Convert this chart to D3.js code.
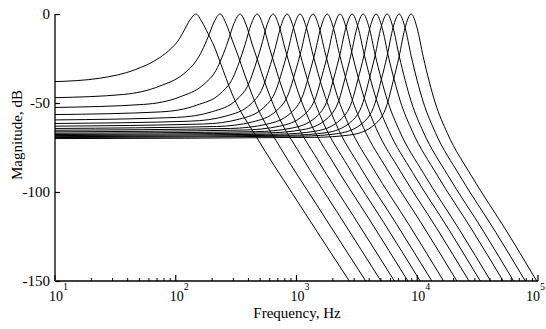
<!DOCTYPE html>
<html>
<head>
<meta charset="utf-8">
<script src="https://cdn.jsdelivr.net/npm/d3@7"></script>
<style>
  html, body { margin: 0; padding: 0; background: #fff; }
  svg { display: block; }
  text { font-family: "Liberation Serif", "Times New Roman", serif; fill: #000; }
</style>
</head>
<body>
<svg id="chart" width="546" height="329"></svg>
<script>
// ---- data ----
// peak frequency of each curve (Hz)
const peakHz = [147, 233, 341, 472, 640, 836, 1071, 1371, 1795, 2296, 2890, 3565, 4565, 5630, 7080, 8900];
// flat low-frequency level of each curve (dB)
const lowLevel = [-38, -47, -52.5, -56.5, -59.5, -61.5, -63, -64.3, -65.3, -66.2, -67, -67.7, -68.3, -68.9, -69.4, -70];
// sample offsets from the peak, in decades
const offsetDec = [-0.8, -0.5, -0.3, -0.2, -0.15, -0.1, -0.05, 0, 0.05, 0.1, 0.15, 0.2, 0.3, 0.5, 0.8];
// magnitude (dB) of each curve at those offsets
const curveDb = [
  [-36.1, -31.2, -24.5, -19.0, -15.2, -9.5, -3.4, 0, -4.5, -11.0, -18.0, -27.0, -45.0, -69.0, -101.0],
  [-45.2, -40.5, -33.5, -26.5, -20.7, -13.0, -4.5, 0, -5.5, -14.6, -23.6, -33.4, -51.2, -75.2, -107.2],
  [-50.8, -46.6, -39.5, -31.7, -24.4, -15.3, -5.2, 0, -6.1, -16.9, -27.0, -37.4, -54.9, -78.9, -110.9],
  [-55.0, -51.2, -44.4, -35.8, -27.3, -17.2, -5.8, 0, -6.5, -18.5, -29.6, -40.3, -57.8, -81.8, -113.8],
  [-58.1, -54.8, -48.0, -38.9, -29.5, -18.6, -6.1, 0, -6.8, -19.7, -31.4, -42.4, -59.7, -83.7, -115.7],
  [-60.2, -57.2, -50.5, -41.0, -31.0, -19.6, -6.5, 0, -7.1, -20.5, -32.6, -43.8, -61.1, -85.1, -117.1],
  [-61.8, -59.0, -52.5, -42.8, -32.3, -20.3, -6.7, 0, -7.2, -21.1, -33.6, -44.9, -62.2, -86.2, -118.2],
  [-63.2, -60.6, -54.2, -44.2, -33.2, -21.0, -6.8, 0, -7.4, -21.7, -34.4, -45.9, -63.0, -87.0, -119.0],
  [-64.3, -61.9, -55.5, -45.4, -34.1, -21.5, -7.0, 0, -7.5, -22.1, -35.0, -46.6, -63.7, -87.7, -119.7],
  [-65.2, -63.0, -56.7, -46.5, -34.8, -22.0, -7.1, 0, -7.6, -22.4, -35.6, -47.2, -64.4, -88.4, -120.4],
  [-66.1, -64.1, -57.9, -47.4, -35.5, -22.4, -7.2, 0, -7.7, -22.8, -36.2, -47.9, -65.0, -89.0, -121.0],
  [-66.8, -65.0, -58.8, -48.3, -36.1, -22.7, -7.4, 0, -7.8, -23.1, -36.6, -48.4, -65.5, -89.5, -121.5],
  [-67.5, -65.8, -59.7, -49.0, -36.6, -23.1, -7.4, 0, -7.8, -23.4, -37.0, -48.9, -65.9, -89.9, -121.9],
  [-68.1, -66.6, -60.6, -49.7, -37.1, -23.4, -7.5, 0, -7.9, -23.6, -37.4, -49.3, -66.3, -90.3, -122.3],
  [-68.6, -67.1, -61.1, -50.2, -37.5, -23.7, -7.6, 0, -7.9, -23.7, -37.6, -49.5, -66.6, -90.6, -122.6],
  [-69.3, -67.9, -62.0, -51.0, -38.0, -24.0, -7.7, 0, -8.0, -24.0, -38.0, -50.0, -67.0, -91.0, -123.0]
];
// offset (decades above peak) where each curve reaches -150 dB
const endDec = [1.27, 1.206, 1.167, 1.137, 1.116, 1.102, 1.091, 1.081, 1.074, 1.068, 1.061, 1.056, 1.052, 1.047, 1.045, 1.04];
const xTickExp = [1, 2, 3, 4, 5];
const yTicks = [0, -50, -100, -150];

// ---- layout ----
const svg = d3.select("#chart");
const x = d3.scaleLog().domain([10, 1e5]).range([55, 538]);
const y = d3.scaleLinear().domain([-150, 0]).range([281, 14]);

const series = peakHz.map((p, i) => {
  const pts = [[10, lowLevel[i]]];
  offsetDec.forEach((u, j) => pts.push([p * Math.pow(10, u), curveDb[i][j]]));
  pts.push([p * Math.pow(10, endDec[i]), -150]);
  return pts;
});

svg.append("clipPath").attr("id", "clip")
  .append("rect").attr("x", 55).attr("y", 0).attr("width", 484).attr("height", 281);

const line = d3.line()
  .x(d => x(d[0]))
  .y(d => y(d[1]))
  .curve(d3.curveMonotoneX);

svg.append("g").attr("clip-path", "url(#clip)")
  .selectAll("path").data(series).join("path")
  .attr("d", line)
  .attr("fill", "none")
  .attr("stroke", "#000")
  .attr("stroke-width", 1);

// y axis
const yAxis = d3.axisRight(y).tickValues(yTicks).tickSize(5).tickFormat("");
const gy = svg.append("g").attr("transform", "translate(55,0)").call(yAxis);
gy.select(".domain").attr("d", `M0,${y(0)}V${y(-150)}`).attr("stroke", "#000").attr("stroke-width", 1.3);
gy.selectAll(".tick line").attr("stroke", "#000").attr("stroke-width", 1.2);
svg.append("g").selectAll("text").data(yTicks).join("text")
  .attr("x", 50).attr("y", d => y(d)).attr("dy", "0.35em")
  .attr("text-anchor", "end").style("font-size", "15px")
  .text(d => d);

// x axis
const minor = [];
for (let e = 1; e < 5; e++) for (let m = 2; m <= 9; m++) minor.push(m * Math.pow(10, e));
const gx = svg.append("g").attr("transform", "translate(0,281)");
gx.append("path").attr("d", `M${x(10)},0H${x(1e5)}`).attr("stroke", "#000").attr("stroke-width", 1.3);
gx.selectAll(".maj").data(xTickExp).join("line").attr("class", "maj")
  .attr("x1", d => x(Math.pow(10, d))).attr("x2", d => x(Math.pow(10, d)))
  .attr("y1", 0).attr("y2", -6).attr("stroke", "#000").attr("stroke-width", 1.2);
gx.selectAll(".min").data(minor).join("line").attr("class", "min")
  .attr("x1", d => x(d)).attr("x2", d => x(d))
  .attr("y1", 0).attr("y2", -3).attr("stroke", "#000").attr("stroke-width", 1);

const xlg = svg.append("g");
xTickExp.forEach(e => {
  let cx = x(Math.pow(10, e)) + 1;
  if (e === 5) cx -= 6; // keep the last label inside the picture
  xlg.append("text").attr("x", cx).attr("y", 301)
    .attr("text-anchor", "middle").style("font-size", "14px").text("10");
  xlg.append("text").attr("x", cx + 7).attr("y", 290)
    .attr("text-anchor", "start").style("font-size", "10px").text(e);
});

// axis titles
svg.append("text").attr("x", 297).attr("y", 318).attr("text-anchor", "middle")
  .style("font-size", "15px").text("Frequency, Hz");
svg.append("text").attr("transform", "translate(22,135) rotate(-90)").attr("text-anchor", "middle")
  .style("font-size", "15px").text("Magnitude, dB");
</script>
</body>
</html>
